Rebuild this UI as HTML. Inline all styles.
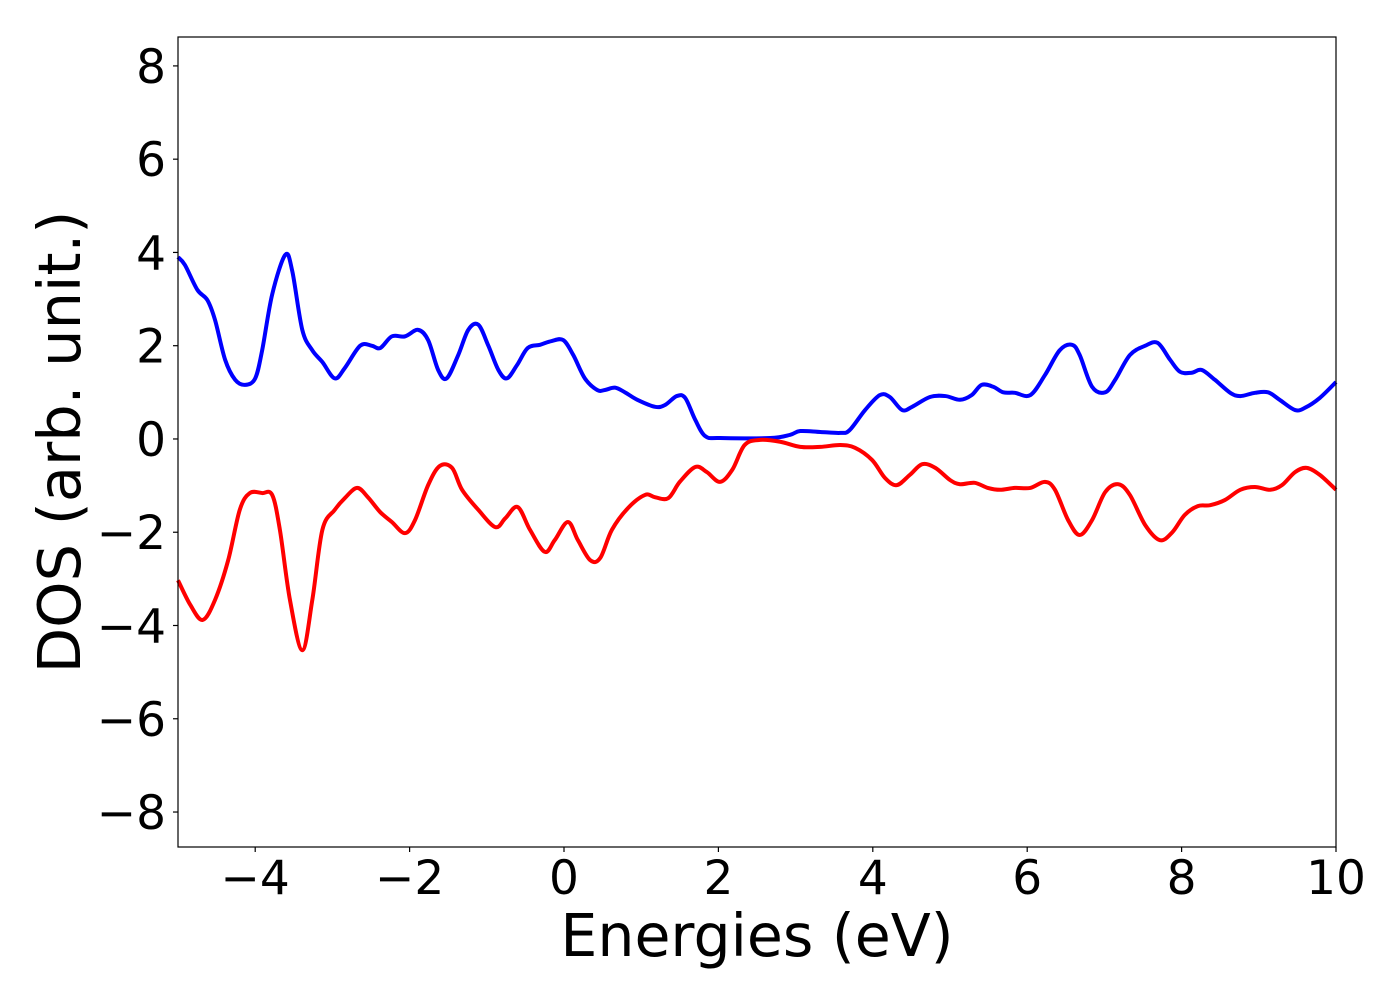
<!DOCTYPE html>
<html><head><meta charset="utf-8"><style>
body{margin:0;background:#fff;}
svg text{font-family:"DejaVu Sans","Liberation Sans",sans-serif;fill:#000;}
</style></head><body>
<svg id="chart" width="1400" height="1000" viewBox="0 0 1400 1000" xmlns="http://www.w3.org/2000/svg">
<rect width="1400" height="1000" fill="#fff"/>
<g id="axes"></g>
<g id="lines"></g>
<rect x="178" y="37" width="1158" height="810" fill="none" stroke="#000" stroke-width="1.2"/>
<text x="757" y="956" font-size="58.5" text-anchor="middle">Energies (eV)</text>
<text transform="translate(80,442) rotate(-90)" font-size="59" text-anchor="middle">DOS (arb. unit.)</text>
</svg>
<script>
const xTicks=[-4,-2,0,2,4,6,8,10];
const yTicks=[-8,-6,-4,-2,0,2,4,6,8];
const upEnergies=[-5.0,-4.91,-4.75,-4.62,-4.52,-4.39,-4.26,-4.13,-4.0,-3.91,-3.78,-3.61,-3.52,-3.39,-3.26,-3.13,-2.97,-2.84,-2.64,-2.49,-2.38,-2.23,-2.06,-1.89,-1.76,-1.63,-1.52,-1.37,-1.24,-1.11,-0.98,-0.85,-0.74,-0.61,-0.47,-0.31,-0.16,-0.01,0.12,0.27,0.43,0.53,0.66,0.79,0.95,1.18,1.31,1.46,1.57,1.70,1.83,2.02,2.67,2.93,3.06,3.32,3.58,3.70,3.90,4.09,4.22,4.38,4.51,4.74,4.94,5.13,5.28,5.41,5.56,5.69,5.84,6.04,6.23,6.42,6.58,6.68,6.84,7.01,7.14,7.33,7.53,7.69,7.85,7.98,8.13,8.26,8.43,8.63,8.76,8.95,9.12,9.27,9.47,9.60,9.79,10.0];
const upDos=[3.9,3.73,3.2,2.98,2.55,1.7,1.27,1.16,1.3,1.9,3.1,3.95,3.6,2.34,1.9,1.65,1.3,1.52,2.0,2.0,1.95,2.2,2.2,2.34,2.12,1.48,1.3,1.8,2.34,2.45,2.0,1.48,1.3,1.58,1.95,2.02,2.1,2.12,1.8,1.3,1.05,1.05,1.1,1.0,0.84,0.69,0.73,0.92,0.88,0.41,0.06,0.02,0.02,0.09,0.17,0.15,0.13,0.19,0.62,0.94,0.9,0.62,0.69,0.9,0.92,0.84,0.94,1.16,1.12,1.0,0.99,0.94,1.37,1.9,2.02,1.8,1.12,1.0,1.27,1.8,2.0,2.06,1.7,1.44,1.42,1.48,1.27,0.99,0.92,0.99,1.0,0.84,0.62,0.67,0.88,1.22];
const downEnergies=[-5.0,-4.84,-4.68,-4.52,-4.35,-4.2,-4.07,-3.91,-3.78,-3.68,-3.55,-3.39,-3.26,-3.13,-2.97,-2.84,-2.68,-2.54,-2.38,-2.23,-2.06,-1.93,-1.76,-1.61,-1.45,-1.32,-1.11,-0.89,-0.76,-0.6,-0.44,-0.25,-0.12,0.05,0.18,0.34,0.47,0.62,0.83,1.05,1.18,1.35,1.50,1.70,1.85,2.02,2.18,2.34,2.54,2.80,3.06,3.32,3.58,3.77,3.99,4.16,4.31,4.48,4.64,4.81,5.0,5.13,5.32,5.49,5.65,5.84,6.04,6.23,6.36,6.53,6.68,6.84,7.01,7.18,7.33,7.53,7.72,7.88,8.04,8.21,8.37,8.56,8.76,8.95,9.15,9.30,9.47,9.62,9.79,10.0];
const downDos=[-3.03,-3.56,-3.88,-3.45,-2.6,-1.52,-1.16,-1.16,-1.2,-1.95,-3.45,-4.53,-3.45,-1.95,-1.52,-1.27,-1.05,-1.25,-1.57,-1.78,-2.02,-1.74,-0.99,-0.58,-0.62,-1.09,-1.52,-1.89,-1.7,-1.46,-1.95,-2.42,-2.17,-1.78,-2.17,-2.6,-2.55,-1.95,-1.48,-1.2,-1.25,-1.27,-0.92,-0.6,-0.71,-0.92,-0.66,-0.13,-0.02,-0.06,-0.17,-0.17,-0.13,-0.19,-0.45,-0.84,-0.99,-0.77,-0.54,-0.62,-0.88,-0.97,-0.94,-1.05,-1.09,-1.05,-1.05,-0.92,-1.09,-1.74,-2.06,-1.74,-1.14,-0.97,-1.2,-1.85,-2.17,-2.0,-1.63,-1.44,-1.42,-1.31,-1.09,-1.03,-1.09,-0.99,-0.71,-0.62,-0.77,-1.09];

const NS='http://www.w3.org/2000/svg';
const X0=178,X1=1336,Y0=847,Y1=37;
const xMin=-5,xMax=10,yMin=-8.75,yMax=8.62;
function sx(v){return X0+(v-xMin)/(xMax-xMin)*(X1-X0);}
function sy(v){return Y0-(v-yMin)/(yMax-yMin)*(Y0-Y1);}
const axes=document.getElementById('axes');
xTicks.forEach(t=>{
  const l=document.createElementNS(NS,'line');
  
  
  l.setAttribute('x1',sx(t));l.setAttribute('x2',sx(t));l.setAttribute('y1',Y0);l.setAttribute('y2',Y0+5);
  l.setAttribute('stroke','#000');l.setAttribute('stroke-width','1.2');axes.appendChild(l);
  const tx=document.createElementNS(NS,'text');
  
  
  tx.setAttribute('x',sx(t));tx.setAttribute('y',894);tx.setAttribute('font-size','47');tx.setAttribute('text-anchor','middle');
  tx.textContent=(t<0?'\u2212'+(-t):''+t);axes.appendChild(tx);
});
yTicks.forEach(t=>{
  const l=document.createElementNS(NS,'line');
  
  
  l.setAttribute('x1',X0-5);l.setAttribute('x2',X0);l.setAttribute('y1',sy(t));l.setAttribute('y2',sy(t));
  l.setAttribute('stroke','#000');l.setAttribute('stroke-width','1.2');axes.appendChild(l);
  const tx=document.createElementNS(NS,'text');
  
  
  tx.setAttribute('x',166);tx.setAttribute('y',sy(t)+17);tx.setAttribute('font-size','47');tx.setAttribute('text-anchor','end');
  tx.textContent=(t<0?'\u2212'+(-t):''+t);axes.appendChild(tx);
});
function smooth(xs,ys){
  const p=xs.map((x,i)=>[sx(x),sy(ys[i])]);
  let d='M'+p[0][0]+','+p[0][1];
  for(let i=0;i<p.length-1;i++){
    const a=p[Math.max(i-1,0)],b=p[i],c=p[i+1],e=p[Math.min(i+2,p.length-1)];
    const c1=[b[0]+(c[0]-a[0])/6,b[1]+(c[1]-a[1])/6];
    const c2=[c[0]-(e[0]-b[0])/6,c[1]-(e[1]-b[1])/6];
    d+=' C'+c1[0]+','+c1[1]+' '+c2[0]+','+c2[1]+' '+c[0]+','+c[1];
  }
  return d;
}
const lines=document.getElementById('lines');
const up=document.createElementNS(NS,'path');


up.setAttribute('d',smooth(upEnergies,upDos));up.setAttribute('fill','none');up.setAttribute('stroke','#0000ff');up.setAttribute('stroke-width','4');
lines.appendChild(up);
const dn=document.createElementNS(NS,'path');


dn.setAttribute('d',smooth(downEnergies,downDos));dn.setAttribute('fill','none');dn.setAttribute('stroke','#ff0000');dn.setAttribute('stroke-width','4');
lines.appendChild(dn);
</script>
</body></html>
